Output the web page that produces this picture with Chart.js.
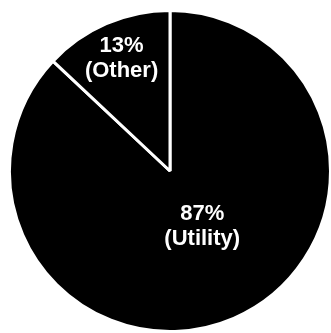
<!DOCTYPE html>
<html>
<head>
<meta charset="utf-8">
<script src="https://cdn.jsdelivr.net/npm/chart.js@4/dist/chart.umd.min.js"></script>
<style>
    html, body { margin: 0; padding: 0; background: #fff; overflow: hidden; }
    body { width: 331px; height: 333px; position: relative; }
    #wrap { position: absolute; left: 8px; top: 9px; width: 324px; height: 324px; }
</style>
</head>
<body>
<div id="wrap"><canvas id="shareChart"></canvas></div>
<script>
// Share of supply by source
const categories = ['Utility', 'Other'];
const shares = [87, 13];
const percentLabels = ['87%', '13%'];

// how far out along each slice's middle the label sits (fraction of radius)
const labelDistance = [0.38, 0.76];
// extra pixel shift per label
const labelNudge = [[8, 0], [0, 0]];

document.addEventListener('DOMContentLoaded', function () {
    const sliceLabels = {
        id: 'sliceLabels',
        afterDatasetsDraw(chart) {
            const c = chart.ctx;
            const arcs = chart.getDatasetMeta(0).data;
            c.save();
            c.fillStyle = '#ffffff';
            c.font = 'bold 22px "Liberation Sans", Arial, sans-serif';
            c.textAlign = 'center';
            c.textBaseline = 'middle';
            arcs.forEach((arc, i) => {
                const p = arc.getProps(['x', 'y', 'startAngle', 'endAngle', 'outerRadius'], true);
                const mid = (p.startAngle + p.endAngle) / 2;
                const d = p.outerRadius * labelDistance[i];
                const x = p.x + Math.cos(mid) * d + labelNudge[i][0];
                const y = p.y + Math.sin(mid) * d + labelNudge[i][1];
                c.fillText(percentLabels[i], x, y - 13);
                c.fillText('(' + categories[i] + ')', x, y + 12);
            });
            c.restore();
        }
    };

    new Chart(document.getElementById('shareChart'), {
        type: 'pie',
        data: {
            labels: categories,
            datasets: [{
                data: shares,
                backgroundColor: ['#000000', '#000000'],
                borderColor: '#ffffff',
                borderWidth: 3
            }]
        },
        options: {
            responsive: true,
            maintainAspectRatio: false,
            animation: false,
            layout: { padding: 0 },
            plugins: {
                legend: { display: false },
                tooltip: { enabled: false }
            }
        },
        plugins: [sliceLabels]
    });
});
</script>
</body>
</html>
